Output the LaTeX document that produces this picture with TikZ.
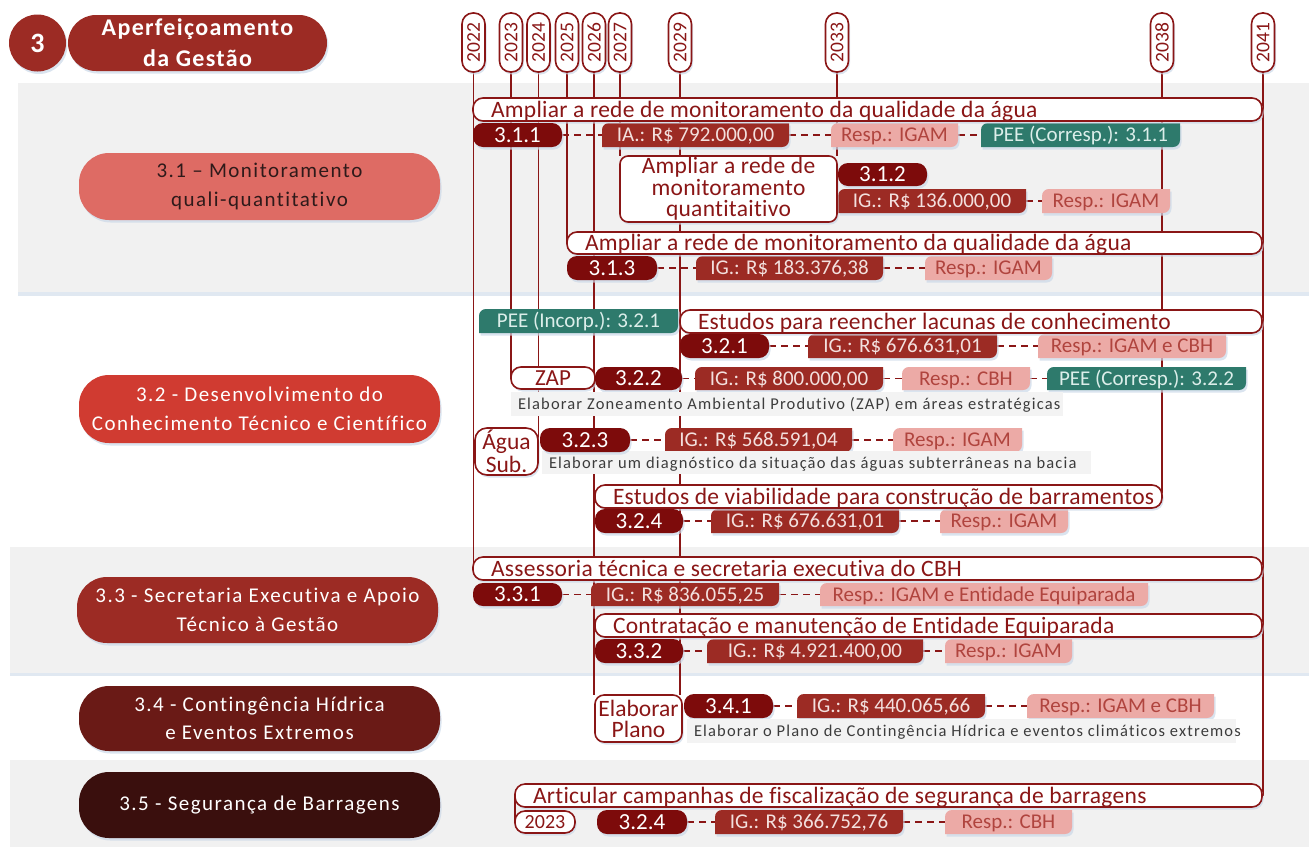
\documentclass[tikz,border=0pt]{standalone}
\usepackage{fontspec}
\setmainfont{Carlito}[Ligatures={NoCommon,NoContextual}]
\newfontfamily\trk{Carlito}[LetterSpace=5.5,Ligatures={NoCommon,NoContextual}]
\newfontfamily\trkb{Carlito}[LetterSpace=7,Ligatures={NoCommon,NoContextual}]
\newfontfamily\barfam{Carlito}[LetterSpace=1.2,Ligatures={NoCommon,NoContextual}]
\usetikzlibrary{calc,shadows}
\definecolor{dred}{HTML}{7D0B0B}
\definecolor{lred}{HTML}{8A1616}
\definecolor{igred}{HTML}{9C2B24}
\definecolor{igtxt}{HTML}{F3E0DE}
\definecolor{pinkbg}{HTML}{ECAAA6}
\definecolor{pinktxt}{HTML}{B0443E}
\definecolor{tealbg}{HTML}{2E7A6C}
\definecolor{tealtxt}{HTML}{DCEEEA}
\definecolor{bandc}{HTML}{F1F1F1}
\definecolor{descbg}{HTML}{F3F3F3}
\definecolor{desctxt}{HTML}{3C3C3C}
\definecolor{cA}{HTML}{DE6B64}
\definecolor{cB}{HTML}{D03B31}
\definecolor{cC}{HTML}{9C2B24}
\definecolor{cD}{HTML}{6A1A16}
\definecolor{cE}{HTML}{3A0F0D}
\definecolor{cAtxt}{HTML}{2E1A1A}
\definecolor{shad}{HTML}{CBD8E8}
\pgfdeclarelayer{bands}
\pgfdeclarelayer{lines}
\pgfdeclarelayer{boxbg}
\pgfsetlayers{bands,lines,boxbg,main}
\newcommand\fbar{\barfam\fontsize{23.5}{24}\selectfont}
\newcommand\fpill{\fontsize{23}{24}\selectfont}
\newcommand\ftag{\fontsize{21}{22}\selectfont}
\newcommand\fyear{\fontsize{19.5}{20}\selectfont}
\newcommand\fdesc{\trkb\fontsize{16.5}{17}\selectfont}
\newcommand\fcat{\trkb\fontsize{21}{28.5}\selectfont}
\tikzset{
 sh/.style={drop shadow={shadow xshift=1.5pt, shadow yshift=-2.5pt, fill=shad, opacity=.7}},
 pillst/.style={fill=dred, rounded corners=10pt, text=white, inner sep=0pt, outer sep=0pt, font=\fpill, text height=14.5pt, text depth=0pt, sh},
 barst/.style={fill=white, draw=lred, line width=1.6pt, rounded corners=10pt, text=lred, inner sep=0pt, outer sep=0pt, font=\fbar, text height=15pt, text depth=0pt, sh},
 tagtxt/.style={inner sep=0pt, outer sep=0pt, font=\ftag, text height=13.5pt, text depth=0pt},
 yearst/.style={fill=white, draw=lred, line width=1.6pt, rounded corners=11pt, text=lred, inner sep=0pt, outer sep=0pt, minimum width=23pt, minimum height=59pt, font=\fyear, sh},
 wbox/.style={fill=white, draw=lred, line width=1.6pt, text=lred, inner sep=0pt, outer sep=0pt, align=center, sh},
 descst/.style={fill=descbg, text=desctxt, inner sep=0pt, outer sep=0pt, font=\fdesc, text height=11pt, text depth=0pt},
 catst/.style={rounded corners=30pt, inner sep=0pt, outer sep=0pt, align=center, font=\fcat, sh},
 yl/.style={draw=lred, line width=1.6pt},
 dcon/.style={draw=lred, line width=1.6pt, dash pattern=on 7pt off 5pt},
}
\newcommand\qdims[4]{\pgfmathsetmacro\qw{#3-#1}\pgfmathsetmacro\qh{#4-#2}\pgfmathsetmacro\qx{(#1+#3)/2}\pgfmathsetmacro\qy{(#2+#4)/2}}
\newcommand\mkpill[6]{\qdims{#2}{#3}{#4}{#5}%
 \node[pillst, minimum width=\qw pt, minimum height=\qh pt] (#1) at (\qx,\qy) {#6};}
\newcommand\mkbar[6]{\qdims{#2}{#3}{#4}{#5}\pgfmathsetmacro\qt{#4-#2-36}%
 \node[barst, minimum width=\qw pt, minimum height=\qh pt] (#1) at (\qx,\qy) {\makebox[\qt pt][l]{#6}};}
\newcommand\mkdesc[6]{\qdims{#2}{#3}{#4}{#5}\pgfmathsetmacro\qt{#4-#2-14}%
 \node[descst, minimum width=\qw pt, minimum height=\qh pt] (#1) at (\qx,\qy) {\makebox[\qt pt][l]{#6}};}
\newcommand\mkbox[8]{\qdims{#2}{#3}{#4}{#5}%
 \node[tagtxt, text=#7, minimum width=\qw pt, minimum height=\qh pt] (#1) at (\qx,\qy) {#8};
 \begin{pgfonlayer}{boxbg}
 \fill[#6, sh] (#1.south west) -- ($(#1.north west)+(0,7)$) .. controls ($(#1.north west)+(0,3)$) and ($(#1.north west)+(3,0)$) .. ($(#1.north west)+(7,0)$) -- (#1.north east) -- ($(#1.south east)+(0,-7)$) .. controls ($(#1.south east)+(0,-3)$) and ($(#1.south east)+(-3,0)$) .. ($(#1.south east)+(-7,0)$) -- cycle;
 \end{pgfonlayer}}
\newcommand\mkig[6]{\mkbox{#1}{#2}{#3}{#4}{#5}{igred}{igtxt}{#6}}
\newcommand\mkresp[6]{\mkbox{#1}{#2}{#3}{#4}{#5}{pinkbg}{pinktxt}{#6}}
\newcommand\mkpee[6]{\mkbox{#1}{#2}{#3}{#4}{#5}{tealbg}{tealtxt}{#6}}
\begin{document}
\begin{tikzpicture}[x=1pt,y=-1pt]
\useasboundingbox (0,0) rectangle (1309,847);
% bands
\begin{pgfonlayer}{bands}
\fill[shad!60] (18,292) rectangle (1309,296);
\fill[bandc] (18,83) rectangle (1309,292);
\fill[shad!60] (10,672) rectangle (1309,676);
\fill[bandc] (10,547) rectangle (1309,673);
\fill[bandc] (10,760) rectangle (1309,847);
\end{pgfonlayer}
% header
\node[circle, fill=cC, minimum size=57pt, inner sep=0pt, text=white, font=\bfseries\fontsize{28}{28}\selectfont, sh] (h3) at (37.5,43) {3};
\node[fill=cC, rounded corners=28pt, minimum width=259pt, minimum height=56pt, inner sep=0pt, text=white, align=center, font=\trk\bfseries\fontsize{24}{31}\selectfont, sh] (htitle) at (197.5,43) {Aperfeiçoamento\\da Gestão};
% years
\node[yearst] (y2022) at (473.5,42.5) {\rotatebox{90}{2022}};
\node[yearst] (y2023) at (511,42.5) {\rotatebox{90}{2023}};
\node[yearst] (y2024) at (538.5,42.5) {\rotatebox{90}{2024}};
\node[yearst] (y2025) at (567,42.5) {\rotatebox{90}{2025}};
\node[yearst] (y2026) at (594,42.5) {\rotatebox{90}{2026}};
\node[yearst] (y2027) at (620,42.5) {\rotatebox{90}{2027}};
\node[yearst] (y2029) at (680,42.5) {\rotatebox{90}{2029}};
\node[yearst] (y2033) at (837,42.5) {\rotatebox{90}{2033}};
\node[yearst] (y2038) at (1162,42.5) {\rotatebox{90}{2038}};
\node[yearst] (y2041) at (1263,42.5) {\rotatebox{90}{2041}};
% categories
\node[catst, fill=cA, text=cAtxt, minimum width=361pt, minimum height=67pt] (c31) at (259.5,186.5) {3.1 – Monitoramento\\quali-quantitativo};
\node[catst, fill=cB, text=white, minimum width=361pt, minimum height=68pt] (c32) at (259.5,409) {3.2 - Desenvolvimento do\\Conhecimento Técnico e Científico};
\node[catst, fill=cC, text=white, minimum width=361pt, minimum height=66pt] (c33) at (257.5,610) {3.3 - Secretaria Executiva e Apoio\\Técnico à Gestão};
\node[catst, fill=cD, text=white, minimum width=361pt, minimum height=65pt] (c34) at (259.5,718.5) {3.4 - Contingência Hídrica\\e Eventos Extremos};
\node[catst, fill=cE, text=white, minimum width=361pt, minimum height=66pt] (c35) at (259.5,805) {3.5 - Segurança de Barragens};
% 3.1
\mkbar{b311}{473}{98}{1262}{121}{Ampliar a rede de monitoramento da qualidade da água}
\mkpill{p311}{473}{123}{562}{147}{3.1.1}
\mkig{ig311}{602}{123}{789}{147}{IA.: R\$ 792.000,00}
\mkresp{rs311}{831}{123}{958}{147}{Resp.: IGAM}
\mkpee{pe311}{981}{123}{1180}{147}{PEE (Corresp.): 3.1.1}
\node[wbox, rounded corners=8pt, minimum width=217pt, minimum height=66pt, font=\barfam\fontsize{23.5}{21.7}\selectfont] (q312) at (728.5,189) {Ampliar a rede de\\monitoramento\\quantitaitivo};
\mkpill{p312}{838}{163}{927}{186}{3.1.2}
\mkig{ig312}{838}{189}{1026}{213}{IG.: R\$ 136.000,00}
\mkresp{rs312}{1042}{189}{1170}{213}{Resp.: IGAM}
\mkbar{b313}{567}{232}{1262}{254}{Ampliar a rede de monitoramento da qualidade da água}
\mkpill{p313}{567}{256}{657}{280}{3.1.3}
\mkig{ig313}{696}{256}{883}{280}{IG.: R\$ 183.376,38}
\mkresp{rs313}{925}{256}{1052}{280}{Resp.: IGAM}
% 3.2
\mkpee{pe321}{479}{309}{678}{333}{PEE (Incorp.): 3.2.1}
\mkbar{b321}{680}{310}{1262}{333}{Estudos para reencher lacunas de conhecimento}
\mkpill{p321}{680}{334}{769}{358}{3.2.1}
\mkig{ig321}{808}{334}{997}{358}{IG.: R\$ 676.631,01}
\mkresp{rs321}{1038}{334}{1226}{358}{Resp.: IGAM e CBH}
\node[wbox, rounded corners=10pt, minimum width=84pt, minimum height=22pt, font=\fontsize{23}{24}\selectfont, text height=14.5pt, text depth=0pt] (zap) at (553,378) {ZAP};
\mkpill{p322}{595}{367}{682}{390}{3.2.2}
\mkig{ig322}{695}{367}{883}{390}{IG.: R\$ 800.000,00}
\mkresp{rs322}{902}{367}{1030}{390}{Resp.: CBH}
\mkpee{pe322}{1047}{367}{1246}{390}{PEE (Corresp.): 3.2.2}
\mkdesc{d322}{511}{392}{1063}{416}{Elaborar Zoneamento Ambiental Produtivo (ZAP) em áreas estratégicas}
\mkdesc{d323}{542}{451}{1091}{474}{Elaborar um diagnóstico da situação das águas subterrâneas na bacia}
\node[wbox, rounded corners=12pt, minimum width=63pt, minimum height=47pt, font=\fontsize{23.5}{22.7}\selectfont] (agua) at (506.5,451.5) {Água\\Sub.};
\mkpill{p323}{540}{428}{630}{452}{3.2.3}
\mkig{ig323}{665}{428}{852}{452}{IG.: R\$ 568.591,04}
\mkresp{rs323}{893}{428}{1022}{452}{Resp.: IGAM}
\mkbar{b324}{595}{485}{1162}{508}{Estudos de viabilidade para construção de barramentos}
\mkpill{p324}{595}{509}{683}{533}{3.2.4}
\mkig{ig324}{711}{509}{899}{533}{IG.: R\$ 676.631,01}
\mkresp{rs324}{940}{509}{1068}{533}{Resp.: IGAM}
% 3.3
\mkbar{b331}{473}{557}{1262}{580}{Assessoria técnica e secretaria executiva do CBH}
\mkpill{p331}{473}{583}{562}{606}{3.3.1}
\mkig{ig331}{591}{583}{779}{606}{IG.: R\$ 836.055,25}
\mkresp{rs331}{820}{583}{1148}{606}{Resp.: IGAM e Entidade Equiparada}
\mkbar{b332}{595}{614}{1262}{637}{Contratação e manutenção de Entidade Equiparada}
\mkpill{p332}{595}{639}{683}{663}{3.3.2}
\mkig{ig332}{707}{639}{923}{663}{IG.: R\$ 4.921.400,00}
\mkresp{rs332}{945}{639}{1072}{663}{Resp.: IGAM}
% 3.4
\node[wbox, rounded corners=9pt, minimum width=87pt, minimum height=47pt, font=\fontsize{23.5}{21}\selectfont] (plano) at (638.5,718.5) {Elaborar\\Plano};
\mkpill{p341}{684}{694}{773}{718}{3.4.1}
\mkig{ig341}{797}{694}{985}{718}{IG.: R\$ 440.065,66}
\mkresp{rs341}{1027}{694}{1214}{718}{Resp.: IGAM e CBH}
\mkdesc{d341}{687}{719}{1236}{743}{Elaborar o Plano de Contingência Hídrica e eventos climáticos extremos}
% 3.5
\mkbar{b35}{515}{784}{1262}{807}{Articular campanhas de fiscalização de segurança de barragens}
\node[wbox, rounded corners=10pt, minimum width=60pt, minimum height=22pt, font=\fontsize{20}{20}\selectfont, text height=12.6pt, text depth=0pt] (y23b) at (545,822) {2023};
\mkpill{p35}{597}{810}{687}{834}{3.2.4}
\mkig{ig35}{715}{810}{903}{834}{IG.: R\$ 366.752,76}
\mkresp{rs35}{945}{810}{1072}{834}{Resp.: CBH}
% connectors
\begin{pgfonlayer}{lines}
\draw[yl] (y2022.south) -- (y2022.south |- b331.center);
\draw[yl] (y2023.south) -- (y2023.south |- zap.center);
\draw[yl] (y2024.south) -- (y2024.south |- p323.center);
\draw[yl] (y2025.south) -- (y2025.south |- b313.center);
\draw[yl] (y2026.south) -- (y2026.south |- plano.north);
\draw[yl] (y2027.south) -- (y2027.south |- q312.north);
\draw[yl] (y2029.south) -- (y2029.south |- plano.north);
\draw[yl] (y2033.south) -- (y2033.south |- q312.north);
\draw[yl] (y2038.south) -- (y2038.south |- b324.center);
\draw[yl] (y2041.south) -- (y2041.south |- b35.center);
\draw[yl] (b35.west) -- (y23b.west);
\draw[dcon] (p311.east) -- (ig311.west);
\draw[dcon] (ig311.east) -- (rs311.west);
\draw[dcon] (rs311.east) -- (pe311.west);
\draw[dcon] (ig312.east) -- (rs312.west);
\draw[dcon] (p313.east) -- (ig313.west);
\draw[dcon] (ig313.east) -- (rs313.west);
\draw[dcon] (p321.east) -- (ig321.west);
\draw[dcon] (ig321.east) -- (rs321.west);
\draw[dcon] (p322.east) -- (ig322.west);
\draw[dcon] (ig322.east) -- (rs322.west);
\draw[dcon] (rs322.east) -- (pe322.west);
\draw[dcon] (p323.east) -- (ig323.west);
\draw[dcon] (ig323.east) -- (rs323.west);
\draw[dcon] (p324.east) -- (ig324.west);
\draw[dcon] (ig324.east) -- (rs324.west);
\draw[dcon] (p331.east) -- (ig331.west);
\draw[dcon] (ig331.east) -- (rs331.west);
\draw[dcon] (p332.east) -- (ig332.west);
\draw[dcon] (ig332.east) -- (rs332.west);
\draw[dcon] (p341.east) -- (ig341.west);
\draw[dcon] (ig341.east) -- (rs341.west);
\draw[dcon] (p35.east) -- (ig35.west);
\draw[dcon] (ig35.east) -- (rs35.west);
\end{pgfonlayer}
\end{tikzpicture}
\end{document}
